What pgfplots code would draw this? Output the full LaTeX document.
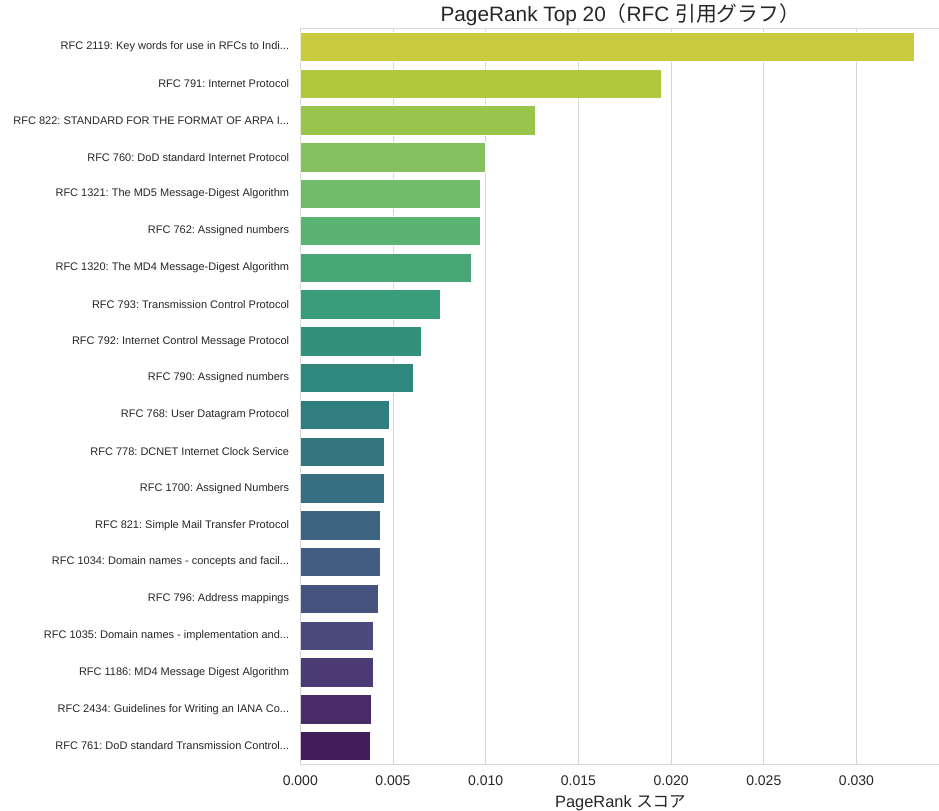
\documentclass[border=0pt]{standalone}
\usepackage{fontspec}
\setmainfont{Liberation Sans}
\newfontfamily\jp{Noto Sans CJK JP}
\usepackage{pgfplots}
\pgfplotsset{compat=1.18}
\newcommand\ddd{...}
\frenchspacing

\definecolor{txt}{RGB}{38,38,38}
\definecolor{gridc}{RGB}{214,214,214}
\definecolor{c0}{RGB}{200,203,61}
\definecolor{c1}{RGB}{177,200,61}
\definecolor{c2}{RGB}{154,197,76}
\definecolor{c3}{RGB}{132,193,94}
\definecolor{c4}{RGB}{113,188,107}
\definecolor{c5}{RGB}{91,179,115}
\definecolor{c6}{RGB}{73,167,119}
\definecolor{c7}{RGB}{57,156,123}
\definecolor{c8}{RGB}{50,145,125}
\definecolor{c9}{RGB}{48,135,126}
\definecolor{c10}{RGB}{48,126,127}
\definecolor{c11}{RGB}{52,118,128}
\definecolor{c12}{RGB}{56,110,130}
\definecolor{c13}{RGB}{61,101,130}
\definecolor{c14}{RGB}{66,93,129}
\definecolor{c15}{RGB}{70,83,127}
\definecolor{c16}{RGB}{74,74,125}
\definecolor{c17}{RGB}{74,59,116}
\definecolor{c18}{RGB}{73,44,105}
\definecolor{c19}{RGB}{67,28,90}

\begin{document}
\frenchspacing
\begin{tikzpicture}
\path[use as bounding box] (0,0) rectangle (939bp,811bp);
\begin{axis}[
    at={(300.3bp,46.6bp)}, anchor=south west,
    scale only axis, width=640bp, height=736bp,
    xbar, bar width=0.8, bar shift=0pt,
    xmin=0, xmax=0.03452,
    ymin=-0.5, ymax=19.5, y dir=reverse,
    xtick={0,0.005,0.010,0.015,0.020,0.025,0.030},
    scaled x ticks=false,
    xticklabel style={/pgf/number format/fixed, /pgf/number format/fixed zerofill,
        /pgf/number format/precision=3, /pgf/number format/assume math mode=true,
        font=\fontsize{14bp}{16bp}\selectfont, text=txt, anchor=base, yshift=-21.3bp},
    ytick={0,1,2,3,4,5,6,7,8,9,10,11,12,13,14,15,16,17,18,19},
    yticklabels={
        {RFC 2119: Key words for use in RFCs to Indi\ddd},
        {RFC 791: Internet Protocol},
        {RFC 822: STANDARD FOR THE FORMAT OF ARPA I\ddd},
        {RFC 760: DoD standard Internet Protocol},
        {RFC 1321: The MD5 Message-Digest Algorithm},
        {RFC 762: Assigned numbers},
        {RFC 1320: The MD4 Message-Digest Algorithm},
        {RFC 793: Transmission Control Protocol},
        {RFC 792: Internet Control Message Protocol},
        {RFC 790: Assigned numbers},
        {RFC 768: User Datagram Protocol},
        {RFC 778: DCNET Internet Clock Service},
        {RFC 1700: Assigned Numbers},
        {RFC 821: Simple Mail Transfer Protocol},
        {RFC 1034: Domain names - concepts and facil\ddd},
        {RFC 796: Address mappings},
        {RFC 1035: Domain names - implementation and\ddd},
        {RFC 1186: MD4 Message Digest Algorithm},
        {RFC 2434: Guidelines for Writing an IANA Co\ddd},
        {RFC 761: DoD standard Transmission Control\ddd}},
    yticklabel style={font=\fontsize{11bp}{12bp}\selectfont\frenchspacing, text=txt, inner sep=0pt, xshift=-11bp},
    major tick length=0pt,
    xmajorgrids, ymajorgrids=false,
    grid style={gridc, line width=0.8bp},
    axis line style={gridc, line width=0.8bp},
    title={PageRank Top 20{\jp（}RFC {\jp 引用グラフ）}},
    title style={font=\fontsize{20.8bp}{24bp}\selectfont, text=txt, at={(0.5,1)}, anchor=base, yshift=1bp},
    xlabel={PageRank {\jp スコア}},
    xlabel style={font=\fontsize{16.4bp}{18bp}\selectfont, text=txt, at={(axis description cs:0.5,0)}, anchor=base, yshift=-42.9bp},
    every axis plot/.append style={draw=white, line width=0.6bp},
]
\addplot[fill=c0] coordinates {(0.03310,0)};
\addplot[fill=c1] coordinates {(0.01945,1)};
\addplot[fill=c2] coordinates {(0.01270,2)};
\addplot[fill=c3] coordinates {(0.00996,3)};
\addplot[fill=c4] coordinates {(0.00973,4)};
\addplot[fill=c5] coordinates {(0.00969,5)};
\addplot[fill=c6] coordinates {(0.00921,6)};
\addplot[fill=c7] coordinates {(0.00757,7)};
\addplot[fill=c8] coordinates {(0.00655,8)};
\addplot[fill=c9] coordinates {(0.00609,9)};
\addplot[fill=c10] coordinates {(0.00480,10)};
\addplot[fill=c11] coordinates {(0.00453,11)};
\addplot[fill=c12] coordinates {(0.00453,12)};
\addplot[fill=c13] coordinates {(0.00434,13)};
\addplot[fill=c14] coordinates {(0.00434,14)};
\addplot[fill=c15] coordinates {(0.00423,15)};
\addplot[fill=c16] coordinates {(0.00396,16)};
\addplot[fill=c17] coordinates {(0.00394,17)};
\addplot[fill=c18] coordinates {(0.00385,18)};
\addplot[fill=c19] coordinates {(0.00378,19)};
\end{axis}
\end{tikzpicture}
\end{document}
